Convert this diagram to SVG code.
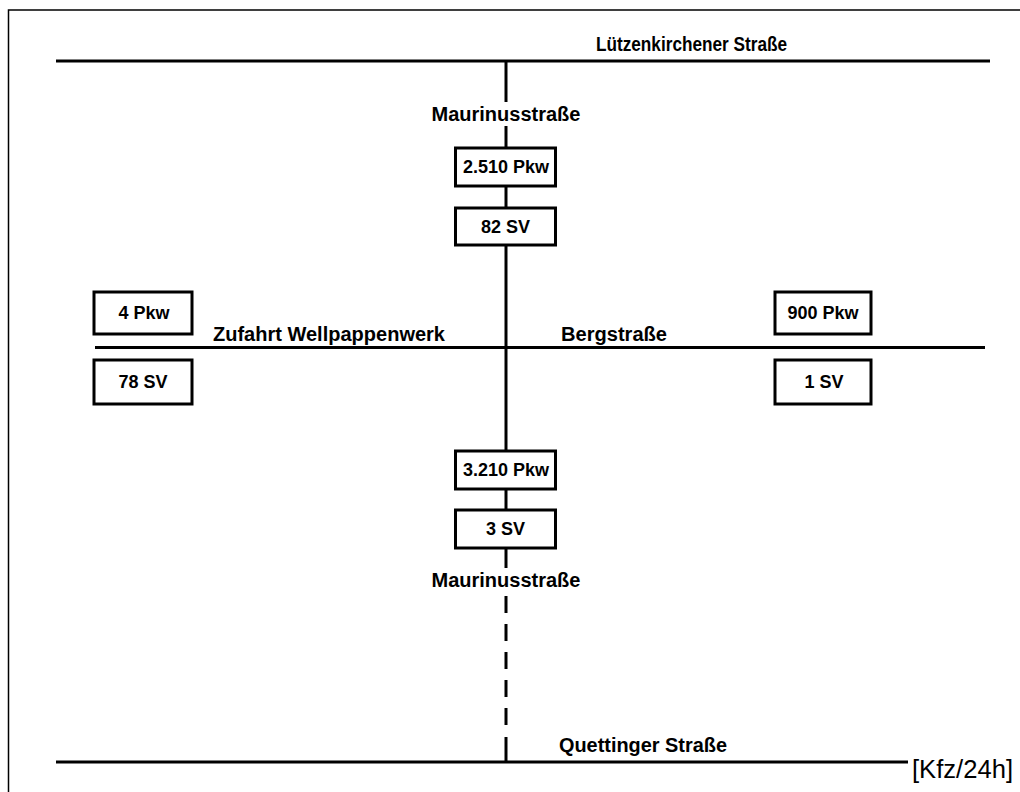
<svg xmlns="http://www.w3.org/2000/svg" width="1020" height="792" viewBox="0 0 1020 792">
<style>
.road{stroke:#000;stroke-width:3;fill:none}
.frame{stroke:#000;stroke-width:1.5;fill:none}
.box{fill:#fff;stroke:#000;stroke-width:3}
.lbl{font-family:"Liberation Sans",Arial,sans-serif;font-weight:bold;font-size:20px;fill:#000}
.num{font-family:"Liberation Sans",Arial,sans-serif;font-weight:bold;font-size:18px;fill:#000;text-anchor:middle}
.unit{font-family:"Liberation Sans",Arial,sans-serif;font-size:25px;fill:#000}
</style>
<rect width="1020" height="792" fill="#fff"/>
<g id="frame">
<path class="frame" d="M8.5,792 V10 H1020"/>
</g>
<g id="connectors">
<line class="road" x1="56" y1="61" x2="990" y2="61"/>
<line class="road" x1="95" y1="347.5" x2="985" y2="347.5"/>
<line class="road" x1="56" y1="762" x2="908" y2="762"/>
<line class="road" x1="506" y1="61" x2="506" y2="102"/>
<line class="road" x1="506" y1="126" x2="506" y2="148"/>
<line class="road" x1="506" y1="186" x2="506" y2="208"/>
<line class="road" x1="506" y1="245" x2="506" y2="451"/>
<line class="road" x1="506" y1="489" x2="506" y2="510"/>
<line class="road" x1="506" y1="548" x2="506" y2="568"/>
<line class="road" x1="506" y1="596" x2="506" y2="728" stroke-dasharray="17 11"/>
<line class="road" x1="506" y1="737" x2="506" y2="762"/>
</g>
<g id="labels">
<text class="lbl" x="596" y="51" textLength="191" lengthAdjust="spacingAndGlyphs">Lützenkirchener Straße</text>
<text class="lbl" x="506" y="121" text-anchor="middle">Maurinusstraße</text>
<text class="lbl" x="213" y="341" textLength="232" lengthAdjust="spacingAndGlyphs">Zufahrt Wellpappenwerk</text>
<text class="lbl" x="561" y="341" textLength="106" lengthAdjust="spacingAndGlyphs">Bergstraße</text>
<text class="lbl" x="506" y="587" text-anchor="middle">Maurinusstraße</text>
<text class="lbl" x="559" y="752" textLength="168" lengthAdjust="spacingAndGlyphs">Quettinger Straße</text>
<text class="unit" x="912" y="778" textLength="101" lengthAdjust="spacingAndGlyphs">[Kfz/24h]</text>
</g>
<g id="n-north-pkw"><rect class="box" x="455.5" y="148" width="100" height="38"/><text class="num" x="506" y="173">2.510 Pkw</text></g>
<g id="n-north-sv"><rect class="box" x="455.5" y="208" width="100" height="37"/><text class="num" x="505.5" y="233">82 SV</text></g>
<g id="n-south-pkw"><rect class="box" x="455.5" y="451" width="100" height="38"/><text class="num" x="506" y="476">3.210 Pkw</text></g>
<g id="n-south-sv"><rect class="box" x="455.5" y="510" width="100" height="38"/><text class="num" x="505.5" y="535">3 SV</text></g>
<g id="n-west-pkw"><rect class="box" x="94" y="292" width="98" height="42"/><text class="num" x="144" y="319">4 Pkw</text></g>
<g id="n-west-sv"><rect class="box" x="94" y="360" width="98" height="44"/><text class="num" x="143" y="388">78 SV</text></g>
<g id="n-east-pkw"><rect class="box" x="775" y="292" width="96" height="42"/><text class="num" x="823" y="319">900 Pkw</text></g>
<g id="n-east-sv"><rect class="box" x="775" y="360" width="96" height="44"/><text class="num" x="824" y="388">1 SV</text></g>
</svg>
